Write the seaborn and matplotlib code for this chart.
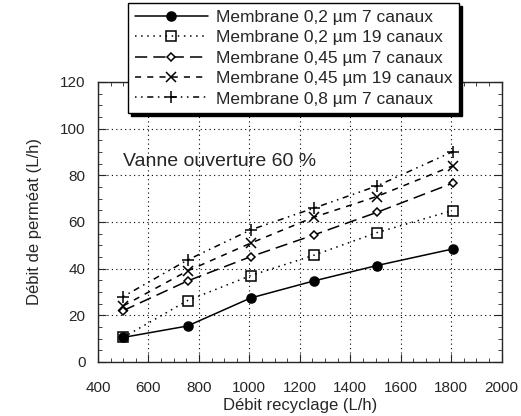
import matplotlib
matplotlib.use("Agg")
import matplotlib.pyplot as plt
import seaborn as sns
import pandas as pd
from matplotlib.ticker import MultipleLocator
from matplotlib.patches import Rectangle

# debit recyclage (L/h) and debit permeat (L/h)
recyclage = [500, 755, 1005, 1255, 1505, 1805]
m02_7 = [10.5, 15.4, 27.4, 34.7, 41.3, 48.4]
m02_19 = [10.5, 26.3, 37.0, 45.7, 55.4, 64.9]
m045_7 = [22.0, 34.7, 45.1, 54.4, 64.1, 76.6]
m045_19 = [24.0, 39.0, 50.9, 62.0, 70.9, 84.0]
m08_7 = [28.0, 43.7, 56.6, 65.9, 75.4, 90.1]

labels = ["Membrane 0,2 µm 7 canaux", "Membrane 0,2 µm 19 canaux",
          "Membrane 0,45 µm 7 canaux", "Membrane 0,45 µm 19 canaux",
          "Membrane 0,8 µm 7 canaux"]
series = [m02_7, m02_19, m045_7, m045_19, m08_7]

rows = []
for lab, vals in zip(labels, series):
    for x, y in zip(recyclage, vals):
        rows.append({"recyclage": x, "permeat": y, "membrane": lab})
df = pd.DataFrame(rows)

sns.set_style("ticks")
plt.rcParams['font.family'] = ['Liberation Sans', 'DejaVu Sans']

fig = plt.figure(figsize=(5.21, 4.16), dpi=100)
ax = fig.add_axes([0.188, 0.13, 0.775, 0.673])

styles = [
    dict(marker="o", ls="-", ms=6.5, mfc="black"),
    dict(marker="s", ls=(0, (1, 3)), ms=6.5, mfc="none"),
    dict(marker="D", ls=(0, (8, 4)), ms=4.5, mfc="white"),
    dict(marker="x", ls=(0, (4, 4)), ms=7.5, mfc="none"),
    dict(marker="+", ls=(0, (1, 3, 1, 3, 4, 3)), ms=8, mfc="none"),
]
for lab, st in zip(labels, styles):
    sub = df[df["membrane"] == lab]
    sns.lineplot(data=sub, x="recyclage", y="permeat", ax=ax, color="black",
                 linestyle=st["ls"], marker=st["marker"], markersize=st["ms"],
                 markerfacecolor=st["mfc"], markeredgecolor="black",
                 markeredgewidth=1.1, linewidth=1.1, label=lab)

ax.set_xlim(400, 2000)
ax.set_ylim(0, 120)
ax.xaxis.set_major_locator(MultipleLocator(200))
ax.xaxis.set_minor_locator(MultipleLocator(50))
ax.yaxis.set_major_locator(MultipleLocator(20))
ax.yaxis.set_minor_locator(MultipleLocator(5))
ax.tick_params(which="both", direction="in", top=True, right=True, labelsize=11)
ax.tick_params(which="major", length=6)
ax.tick_params(which="minor", length=3)
ax.tick_params(axis="x", pad=14)
ax.tick_params(axis="y", pad=9)
ax.grid(True, which="major", linestyle=(0, (1, 3)), color="black", linewidth=0.8)
for s in ax.spines.values():
    s.set_linewidth(1.0)

ax.set_xlabel("Débit recyclage (L/h)", fontsize=12, labelpad=2)
ax.set_ylabel("Débit de perméat (L/h)", fontsize=12, labelpad=13)

ax.text(500, 85.7, "Vanne ouverture 60 %", fontsize=14, va="center", ha="left")

leg = ax.legend(loc="upper left", bbox_to_anchor=(0.074, 1.282), fontsize=12.5,
                frameon=True, fancybox=False, handlelength=4.2, handletextpad=0.45,
                labelspacing=0.3, borderpad=0.4, borderaxespad=0)
leg.get_frame().set_edgecolor("black")
leg.get_frame().set_linewidth(1.0)
leg.get_frame().set_alpha(1.0)

# thick drop shadow on the right and bottom of the legend box
fig.canvas.draw()
bb = leg.get_window_extent()
shadow = Rectangle((bb.x0 + 3, bb.y0 - 3), bb.width, bb.height, transform=None,
                   facecolor="black", edgecolor="black", zorder=4.9, clip_on=False)
ax.add_artist(shadow)

fig.savefig("out.png", dpi=100)
